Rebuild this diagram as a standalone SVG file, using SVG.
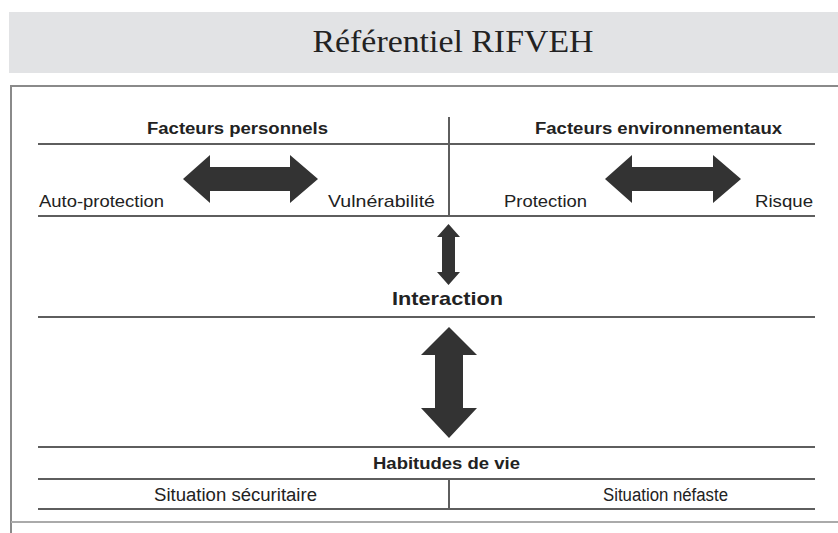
<svg xmlns="http://www.w3.org/2000/svg" width="838" height="533" viewBox="0 0 838 533">
<style>
.t{font-family:"Liberation Sans",Arial,sans-serif;fill:#222}
.b{font-weight:bold}
.ln{stroke:#5e5e5e;stroke-width:2;fill:none}
.fr{stroke:#8a8a8a;stroke-width:2;fill:none}
.ar{fill:#333}
</style>
<rect x="9" y="12" width="829" height="61" fill="#e2e3e5"/>
<text x="453" y="52" text-anchor="middle" font-family="'Liberation Serif','Times New Roman',serif" font-size="32" fill="#222" textLength="281" lengthAdjust="spacingAndGlyphs">Référentiel RIFVEH</text>
<g id="frame">
<path class="fr" d="M838 86H11V533"/>
<path d="M11 522H838" stroke="#aaa" stroke-width="2"/>
</g>
<g id="lines">
<path class="ln" d="M38 144H815M38 216H815M38 317H815M38 447H815M38 479H815M38 509H815M449 117V216M449 479V509"/>
</g>
<g id="facteurs-personnels">
<text class="t b" x="147" y="134" font-size="16" textLength="181" lengthAdjust="spacingAndGlyphs">Facteurs personnels</text>
<text class="t" x="39" y="207" font-size="17" textLength="125" lengthAdjust="spacingAndGlyphs">Auto-protection</text>
<text class="t" x="328" y="207" font-size="17" textLength="107" lengthAdjust="spacingAndGlyphs">Vulnérabilité</text>
</g>
<g id="facteurs-environnementaux">
<text class="t b" x="535" y="134" font-size="16" textLength="247" lengthAdjust="spacingAndGlyphs">Facteurs environnementaux</text>
<text class="t" x="504" y="207" font-size="17" textLength="83" lengthAdjust="spacingAndGlyphs">Protection</text>
<text class="t" x="755" y="207" font-size="17" textLength="58" lengthAdjust="spacingAndGlyphs">Risque</text>
</g>
<g id="interaction">
<text class="t b" x="392" y="305" font-size="19" textLength="111" lengthAdjust="spacingAndGlyphs">Interaction</text>
</g>
<g id="habitudes">
<text class="t b" x="373" y="469" font-size="17" textLength="147" lengthAdjust="spacingAndGlyphs">Habitudes de vie</text>
<text class="t" x="154" y="501" font-size="18" textLength="163" lengthAdjust="spacingAndGlyphs">Situation sécuritaire</text>
<text class="t" x="603" y="501" font-size="18" textLength="125" lengthAdjust="spacingAndGlyphs">Situation néfaste</text>
</g>
<g id="connectors">
<path class="ar" d="M183 179L210 155V167H290V155L318 179L290 203V191H210V203Z"/>
<path class="ar" d="M605 179L632 155V167H713V155L741 179L713 203V191H632V203Z"/>
<path class="ar" d="M448.5 224L460 237H455V272H460L448.5 285L437 272H442V237H437Z"/>
<path class="ar" d="M449 327L477 355H463V408H477L449 438L421 408H435V355H421Z"/>
</g>
</svg>
